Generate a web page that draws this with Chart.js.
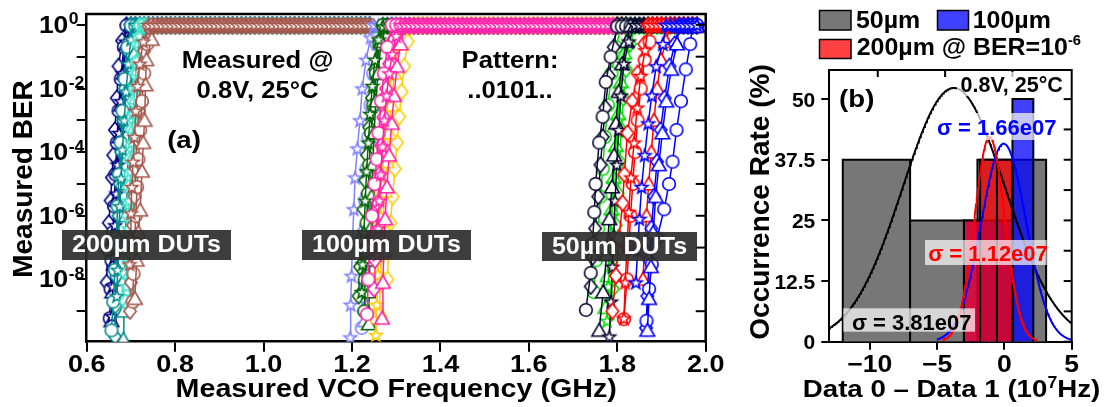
<!DOCTYPE html>
<html>
<head>
<meta charset="utf-8">
<title>BER vs VCO frequency and mismatch histogram</title>
<script src="https://cdn.jsdelivr.net/npm/chart.js@4/dist/chart.umd.min.js"></script>
<style>
  html, body { margin: 0; padding: 0; background: #fff; width: 1114px; height: 407px; overflow: hidden; }
  #panelA { position: absolute; left: 0; top: 0; width: 740px; height: 407px; }
  #panelB { position: absolute; left: 740px; top: 0; width: 374px; height: 407px; }
</style>
</head>
<body>
<div id="panelA"><canvas id="berChart"></canvas></div>
<div id="panelB"><canvas id="histChart"></canvas></div>
<script>
// ===================== Panel (a): measured BER vs VCO frequency =====================
// Each DUT colour group carries four DUTs drawn with ◇ ○ △ ☆ markers (in that order).
const SHAPES = ['diamond', 'circle', 'triangle', 'star'];

const dut200Colors = ['#000080', '#008B8B', '#3FE0C8', '#A5574C'];
const dut100Colors = ['#8080FF', '#006400', '#FFCC00', '#FF22AA'];
const dut50Colors  = ['#00E000', '#0A0A30', '#FF0000', '#0000FF'];

// 200 µm DUTs — rising edge (GHz, BER)
const dut200Ghz = [
  [0.645,0.647,0.650,0.654,0.657,0.660,0.664,0.668,0.672,0.680],
  [0.652,0.654,0.656,0.659,0.662,0.665,0.668,0.672,0.677,0.684],
  [0.656,0.658,0.661,0.664,0.667,0.670,0.674,0.678,0.683,0.690],
  [0.657,0.659,0.662,0.664,0.667,0.670,0.673,0.677,0.681,0.688],
  [0.664,0.665,0.667,0.669,0.672,0.675,0.678,0.682,0.686,0.693],
  [0.656,0.660,0.664,0.667,0.670,0.673,0.677,0.681,0.686,0.692],
  [0.683,0.684,0.685,0.687,0.689,0.691,0.694,0.697,0.701,0.707],
  [0.668,0.670,0.672,0.675,0.678,0.681,0.685,0.689,0.694,0.700],
  [0.688,0.689,0.691,0.693,0.695,0.698,0.701,0.705,0.709,0.715],
  [0.694,0.695,0.696,0.698,0.700,0.703,0.706,0.710,0.714,0.720],
  [0.697,0.698,0.699,0.701,0.703,0.705,0.708,0.712,0.716,0.722],
  [0.690,0.692,0.694,0.696,0.699,0.702,0.705,0.709,0.713,0.719],
  [0.698,0.700,0.702,0.705,0.708,0.711,0.714,0.718,0.723,0.730],
  [0.704,0.706,0.708,0.711,0.714,0.717,0.721,0.725,0.730,0.737],
  [0.709,0.713,0.717,0.721,0.725,0.728,0.731,0.733,0.735,0.747],
  [0.697,0.698,0.700,0.702,0.705,0.708,0.711,0.715,0.720,0.728]
];
const dut200Ber = [
  [8e-9,8e-8,6e-7,3e-6,1.6e-5,8e-5,5e-4,5e-3,5e-2,0.32],
  [6e-10,5e-9,4e-8,3e-7,2e-6,2e-5,2e-4,2e-3,2e-2,0.2],
  [5e-10,4e-9,3e-8,3e-7,3e-6,3e-5,3e-4,3e-3,3e-2,0.25],
  [7e-10,6e-9,5e-8,5e-7,5e-6,4e-5,4e-4,4e-3,3e-2,0.3],
  [1.6e-10,1.5e-9,1.2e-8,1e-7,1e-6,1e-5,1e-4,1e-3,1e-2,0.15],
  [2.5e-10,2e-9,2e-8,2e-7,2e-6,2e-5,2e-4,2e-3,2e-2,0.2],
  [1.3e-10,1e-9,1e-8,1e-7,1e-6,1e-5,1e-4,1e-3,1e-2,0.12],
  [3e-9,2e-8,2e-7,2e-6,1.5e-5,1.2e-4,1e-3,8e-3,6e-2,0.35],
  [2e-9,1.5e-8,1.2e-7,1e-6,8e-6,6e-5,5e-4,4e-3,3e-2,0.25],
  [5e-9,4e-8,3e-7,2.5e-6,2e-5,1.6e-4,1.3e-3,1e-2,7e-2,0.4],
  [2e-9,1.6e-8,1.3e-7,1e-6,8e-6,7e-5,6e-4,5e-3,4e-2,0.3],
  [6e-9,5e-8,4e-7,3e-6,2.5e-5,2e-4,1.6e-3,1.2e-2,8e-2,0.45],
  [1e-9,8e-9,6e-8,5e-7,4e-6,3e-5,2.5e-4,2e-3,1.6e-2,0.15],
  [2e-9,1.5e-8,1.2e-7,1e-6,8e-6,6e-5,5e-4,4e-3,3e-2,0.25],
  [2.5e-9,4e-8,3e-7,1.5e-6,2.5e-5,2e-4,1e-3,1.3e-2,8e-2,0.35],
  [3e-8,2e-7,1.2e-6,8e-6,5e-5,3e-4,2e-3,1.2e-2,6e-2,0.3]
];
const dut200Saturation = [1,0.95,1,0.9, 1,0.95,0.9,1, 0.95,1,0.9,1, 0.9,1,0.95,1];
const sweep200Ghz = [0.69,0.70,0.71,0.72,0.73,0.74,0.75,0.76,0.77,0.78,0.79,0.80,0.81,0.82,0.83,0.84,0.85,0.86,0.87,0.88,0.89,0.90,0.91,0.92,0.93,0.94,0.95,0.96,0.97,0.98,0.99,1.00,1.01,1.02,1.03,1.04,1.05,1.06,1.07,1.08,1.09,1.10,1.11,1.12,1.13,1.14,1.15,1.16,1.17,1.18,1.19,1.20,1.21,1.22,1.23,1.24];

// 100 µm DUTs
const dut100Ghz = [
  [1.226,1.227,1.229,1.231,1.234,1.237,1.241,1.246,1.252,1.260],
  [1.222,1.223,1.225,1.227,1.230,1.233,1.237,1.242,1.248,1.256],
  [1.229,1.230,1.232,1.234,1.237,1.240,1.244,1.249,1.255,1.263],
  [1.196,1.197,1.199,1.201,1.204,1.207,1.212,1.218,1.223,1.232,1.242],
  [1.215,1.218,1.222,1.226,1.230,1.234,1.239,1.245,1.252,1.262],
  [1.228,1.229,1.231,1.233,1.236,1.239,1.243,1.248,1.254,1.262],
  [1.238,1.239,1.240,1.242,1.244,1.247,1.250,1.254,1.259,1.266],
  [1.222,1.224,1.227,1.230,1.233,1.237,1.241,1.246,1.252,1.260],
  [1.280,1.283,1.287,1.292,1.297,1.302,1.307,1.312,1.318,1.326],
  [1.255,1.257,1.260,1.263,1.267,1.271,1.276,1.282,1.289,1.298],
  [1.262,1.264,1.267,1.270,1.274,1.278,1.283,1.289,1.296,1.305],
  [1.254,1.256,1.258,1.261,1.264,1.268,1.272,1.277,1.283,1.292],
  [1.250,1.252,1.255,1.258,1.262,1.266,1.271,1.277,1.284,1.293],
  [1.234,1.237,1.240,1.245,1.251,1.256,1.260,1.266,1.272,1.280],
  [1.268,1.270,1.272,1.275,1.279,1.284,1.290,1.295,1.302,1.310],
  [1.257,1.259,1.262,1.265,1.269,1.273,1.278,1.284,1.291,1.300]
];
const dut100Ber = [
  [1e-9,8e-9,6e-8,5e-7,5e-6,4e-5,4e-4,4e-3,3e-2,0.25],
  [3e-10,3e-9,3e-8,3e-7,3e-6,3e-5,3e-4,3e-3,3e-2,0.25],
  [5e-10,5e-9,4e-8,4e-7,4e-6,4e-5,3e-4,3e-3,3e-2,0.25],
  [1.5e-10,1.6e-9,1.3e-8,1.3e-7,1.6e-6,1.6e-5,1.3e-4,1e-3,1e-2,8e-2,0.4],
  [3e-9,2.5e-8,2e-7,1.6e-6,1.3e-5,8e-5,6e-4,5e-3,4e-2,0.3],
  [1e-9,1e-8,8e-8,6e-7,5e-6,4e-5,4e-4,3e-3,3e-2,0.25],
  [4e-10,4e-9,4e-8,4e-7,4e-6,4e-5,4e-4,4e-3,3e-2,0.3],
  [4e-9,3e-8,3e-7,3e-6,2.5e-5,2e-4,1.6e-3,1.2e-2,8e-2,0.35],
  [1e-8,8e-8,6e-7,4e-6,3e-5,2e-4,1.3e-3,8e-3,5e-2,0.3],
  [6e-10,6e-9,5e-8,5e-7,5e-6,4e-5,4e-4,3e-3,3e-2,0.25],
  [1e-9,1e-8,8e-8,7e-7,6e-6,5e-5,4e-4,3e-3,3e-2,0.25],
  [1.8e-10,1.6e-9,1.4e-8,1.2e-7,1e-6,1e-5,1e-4,1e-3,1e-2,0.12],
  [5e-9,4e-8,3e-7,2.5e-6,2e-5,1.6e-4,1.3e-3,1e-2,6e-2,0.35],
  [8e-10,1e-8,1e-7,1e-6,1e-5,6e-5,4e-4,4e-3,3e-2,0.2],
  [6e-10,8e-9,8e-8,8e-7,8e-6,8e-5,8e-4,6e-3,5e-2,0.25],
  [6e-8,4e-7,3e-6,2e-5,1.5e-4,1e-3,6e-3,3e-2,0.12,0.45]
];
const dut100Saturation = [1,0.9,0.95,1, 0.9,1,0.95,0.9, 1,0.9,0.95,1, 0.9,1,0.95,1];
const sweep100Ghz = [1.25,1.26,1.27,1.28,1.29,1.30,1.31,1.32,1.33,1.34,1.35,1.36,1.37,1.38,1.39,1.40,1.41,1.42,1.43,1.44,1.45,1.46,1.47,1.48,1.49,1.50,1.51,1.52,1.53,1.54,1.55,1.56,1.57,1.58,1.59,1.60,1.61,1.62,1.63,1.64,1.65,1.66,1.67,1.68,1.69,1.70,1.71,1.72,1.73,1.74,1.75,1.76,1.77,1.78,1.79,1.80,1.81,1.82];

// 50 µm DUTs (green, black, red, blue)
const dut50Ghz = [
  [1.790,1.794,1.797,1.801,1.805,1.809,1.814,1.820,1.829],
  [1.747,1.752,1.757,1.762,1.767,1.772,1.779,1.787,1.797],
  [1.773,1.778,1.783,1.787,1.792,1.797,1.802,1.808,1.816],
  [1.777,1.780,1.784,1.787,1.791,1.796,1.801,1.806,1.814],
  [1.740,1.744,1.750,1.757,1.762,1.767,1.773,1.781,1.792],
  [1.729,1.740,1.744,1.748,1.751,1.759,1.767,1.774,1.785],
  [1.759,1.768,1.776,1.782,1.788,1.793,1.797,1.803,1.811,1.822],
  [1.782,1.786,1.789,1.792,1.795,1.799,1.803,1.808,1.815,1.826],
  [1.789,1.797,1.804,1.812,1.816,1.823,1.834,1.846,1.861],
  [1.815,1.822,1.826,1.830,1.835,1.840,1.846,1.853,1.862,1.873],
  [1.858,1.862,1.866,1.871,1.877,1.883,1.890,1.899,1.910],
  [1.815,1.818,1.822,1.826,1.831,1.838,1.845,1.853,1.863],
  [1.865,1.868,1.872,1.877,1.883,1.890,1.898,1.907,1.918,1.930],
  [1.866,1.872,1.878,1.890,1.906,1.917,1.925,1.934,1.944,1.955,1.965],
  [1.868,1.872,1.876,1.881,1.887,1.894,1.902,1.911,1.922,1.935],
  [1.842,1.846,1.850,1.855,1.862,1.870,1.878,1.888,1.903]
];
const dut50Ber = [
  [5e-9,5e-8,5e-7,5e-6,5e-5,5e-4,5e-3,4e-2,0.25],
  [4e-9,4e-8,4e-7,4e-6,3e-5,3e-4,3e-3,3e-2,0.2],
  [1.3e-9,1.3e-8,1.6e-7,1.6e-6,1.6e-5,1.6e-4,1.6e-3,1.6e-2,0.13],
  [5e-10,6e-9,8e-8,1e-6,1e-5,1e-4,1e-3,1e-2,8e-2],
  [6e-9,5e-8,4e-7,4e-6,4e-5,3e-4,2.5e-3,2.5e-2,0.2],
  [1.1e-9,1.6e-8,1.3e-7,1.3e-6,1e-5,2e-4,1.3e-3,1.6e-2,0.1],
  [2.5e-10,4e-9,6e-8,8e-7,8e-6,8e-5,8e-4,8e-3,6e-2,0.3],
  [1.6e-10,2e-9,2.5e-8,2.5e-7,3e-6,4e-5,5e-4,6e-3,6e-2,0.3],
  [1e-9,1.3e-8,2e-7,2.5e-6,2e-5,4e-4,4e-3,3e-2,0.25],
  [5.6e-10,1e-8,1e-7,1e-6,1e-5,1e-4,1e-3,1e-2,8e-2,0.3],
  [1e-8,1e-7,1e-6,1e-5,1e-4,1e-3,1e-2,8e-2,0.3],
  [6e-10,8e-9,1e-7,1.3e-6,1.6e-5,2e-4,2.5e-3,2.5e-2,0.16],
  [3e-10,3e-9,4e-8,4e-7,4e-6,5e-5,5e-4,5e-3,5e-2,0.25],
  [5e-10,5e-9,3e-8,2e-7,1.6e-6,1e-5,5e-5,5e-4,4e-3,4e-2,0.25],
  [2.5e-10,2.5e-9,2.5e-8,3e-7,4e-6,4e-5,4e-4,4e-3,4e-2,0.25],
  [8e-9,8e-8,8e-7,8e-6,8e-5,8e-4,6e-3,5e-2,0.25]
];
const dut50Saturation = [0.9,1,0.95,0.9, 1,0.9,0.95,1, 1,0.95,0.9,1, 0.95,1,0.9,1];
const sweep50Ghz = [1.80,1.81,1.82,1.83,1.84,1.85,1.86,1.87,1.88,1.89,1.90,1.91,1.92,1.93,1.94,1.95,1.96,1.97,1.98];

// Axis ticks
const freqTicks = [0.6, 0.8, 1.0, 1.2, 1.4, 1.6, 1.8, 2.0];
const berDecades = [0, -1, -2, -3, -4, -5, -6, -7, -8, -9];
const berLabelExp = [0, -2, -4, -6, -8];

// ===================== Panel (b): Data 0 – Data 1 histogram =====================
const bins50 = [[-12, -7], [-7, -3], [-2, 3.1]];
const pct50 = [37.5, 25, 37.5];
const bins100 = [[-3, 0.6], [0.6, 2.15]];
const pct100 = [25, 50];
const bins200 = [[-3, -1.8], [-1.8, -0.55], [-0.55, 0.6]];
const pct200 = [25, 37.5, 37.5];

// Normal fits (units of 10^7 Hz): 50 µm, 100 µm, 200 µm
const fitMean  = [-3.75, -0.05, -1.1];
const fitSigma = [3.81, 1.66, 1.12];
const fitPeak  = [52.3, 40.8, 42.2];
const fitSpan  = [[-13, 5], [-5, 5], [-4.6, 2.45]];
const fitColor = ['#000000', '#0000FF', '#FF0000'];

const rateTicks = [0, 12.5, 25, 37.5, 50];
const rateMinor = [0, 6.25, 12.5, 18.75, 25, 31.25, 37.5, 43.75, 50];
const deltaTicks = [-10, -5, 0, 5];
const deltaTopTicks = [-9.4, -4.4, 0.6];

// ------------------------------------------------------------------
const FONT = '"Liberation Sans", Arial, Helvetica, sans-serif';
Chart.defaults.font.family = FONT;

function textW(ctx, s, size, sx) {
  ctx.save();
  ctx.font = `bold ${size}px ${FONT}`;
  const w = ctx.measureText(s).width * sx;
  ctx.restore();
  return w;
}
// Draws a run of text pieces [{t, size, sx, dy, color}] starting at x (or aligned).
function drawRun(ctx, parts, x, y, align) {
  const widths = parts.map(p => textW(ctx, p.t, p.size, p.sx ?? 1));
  const total = widths.reduce((a, b) => a + b, 0);
  let cx = align === 'center' ? x - total / 2 : align === 'right' ? x - total : x;
  parts.forEach((p, i) => {
    ctx.save();
    ctx.font = `bold ${p.size}px ${FONT}`;
    ctx.fillStyle = p.color || '#000';
    ctx.textAlign = 'left';
    ctx.textBaseline = 'alphabetic';
    ctx.translate(cx, y + (p.dy || 0));
    ctx.scale(p.sx ?? 1, 1);
    ctx.fillText(p.t, 0, 0);
    ctx.restore();
    cx += widths[i];
  });
  return { left: cx - total, width: total };
}
function drawText(ctx, s, x, y, size, sx, align, color) {
  return drawRun(ctx, [{ t: s, size, sx, color }], x, y, align);
}

function markerCanvas(shape, color) {
  const s = 18;
  const c = document.createElement('canvas');
  c.width = s; c.height = s;
  const g = c.getContext('2d');
  g.translate(s / 2, s / 2);
  g.lineWidth = 1.6;
  g.strokeStyle = color;
  g.fillStyle = '#ffffff';
  g.lineJoin = 'miter';
  g.beginPath();
  if (shape === 'diamond') {
    g.moveTo(0, -7.8); g.lineTo(6.2, 0); g.lineTo(0, 7.8); g.lineTo(-6.2, 0); g.closePath();
  } else if (shape === 'circle') {
    g.arc(0, 0, 6.3, 0, Math.PI * 2);
  } else if (shape === 'triangle') {
    g.moveTo(0, -7); g.lineTo(7.3, 5.8); g.lineTo(-7.3, 5.8); g.closePath();
  } else {
    for (let k = 0; k < 10; k++) {
      const r = k % 2 ? 2.7 : 6.6;
      const a = -Math.PI / 2 + k * Math.PI / 5;
      const px = r * Math.cos(a), py = r * Math.sin(a) + 0.6;
      k ? g.lineTo(px, py) : g.moveTo(px, py);
    }
    g.closePath();
  }
  g.fill();
  g.stroke();
  return c;
}

function groupDatasets(ghz, ber, saturation, sweep, colors) {
  return ghz.map((fs, i) => {
    const color = colors[Math.floor(i / 4)];
    const pts = fs.map((f, j) => ({ x: f, y: ber[i][j] }));
    const last = fs[fs.length - 1];
    sweep.filter(f => f > last + 0.004).forEach(f => pts.push({ x: f, y: saturation[i] }));
    return {
      data: pts,
      borderColor: color,
      borderWidth: 1.5,
      backgroundColor: '#ffffff',
      pointStyle: markerCanvas(SHAPES[i % 4], color),
      pointRadius: 6,
      showLine: true,
      fill: false,
      tension: 0
    };
  });
}

// later datasets must be painted on top → Chart.js paints index 0 last, so reverse
const berSets = [
  ...groupDatasets(dut200Ghz, dut200Ber, dut200Saturation, sweep200Ghz, dut200Colors),
  ...groupDatasets(dut100Ghz, dut100Ber, dut100Saturation, sweep100Ghz, dut100Colors),
  ...groupDatasets(dut50Ghz, dut50Ber, dut50Saturation, sweep50Ghz, dut50Colors)
].reverse();

const axisGrid = { display: true, drawOnChartArea: false, drawTicks: true, tickLength: 10, lineWidth: 2, color: '#000' };
const axisBorder = { display: true, width: 2.5, color: '#000' };

const panelADecor = {
  id: 'panelADecor',
  afterDraw(chart) {
    const { ctx, chartArea: a, scales: { x, y } } = chart;
    ctx.save();
    ctx.strokeStyle = '#000';
    ctx.lineWidth = 2.5;
    ctx.beginPath();
    ctx.moveTo(a.left - 1.25, a.top); ctx.lineTo(a.right, a.top); ctx.lineTo(a.right, a.bottom + 1.25);
    ctx.stroke();
    ctx.lineWidth = 2;
    berDecades.forEach(e => {
      const py = y.getPixelForValue(Math.pow(10, e));
      ctx.beginPath(); ctx.moveTo(a.right, py); ctx.lineTo(a.right - 10, py); ctx.stroke();
    });
    // y tick labels 10^n
    berLabelExp.forEach(e => {
      const py = y.getPixelForValue(Math.pow(10, e));
      drawText(ctx, '10', a.left - 18.4, py + 8, 23, 1.15, 'right');
      drawText(ctx, e === 0 ? '0' : '-' + (-e), a.left - 18, py - 0.5, 16, 1.1, 'left');
    });
    // x tick labels
    freqTicks.forEach(v => {
      drawText(ctx, v.toFixed(1), x.getPixelForValue(v), 371.7, 23.5, 1.15, 'center');
    });
    // axis titles
    drawText(ctx, 'Measured VCO Frequency (GHz)', (a.left + a.right) / 2, 396.7, 25.6, 1.12, 'center');
    ctx.save();
    ctx.translate(32, 179);
    ctx.rotate(-Math.PI / 2);
    drawText(ctx, 'Measured BER', 0, 0, 28, 1, 'center');
    ctx.restore();
    // annotations
    drawText(ctx, 'Measured @', 257.5, 68.3, 23.3, 1.1, 'center');
    drawText(ctx, '0.8V, 25°C', 257.5, 98.3, 23.3, 1.1, 'center');
    drawText(ctx, '(a)', 184, 148, 24, 1.15, 'center');
    drawText(ctx, 'Pattern:', 510, 68.3, 23.3, 1.1, 'center');
    drawText(ctx, '..0101..', 510, 98.3, 23.3, 1.1, 'center');
    // DUT group tags
    const tags = [
      ['200µm DUTs', 62, 230, 169, 30],
      ['100µm DUTs', 302, 230, 169, 30],
      ['50µm DUTs', 542, 232, 155, 29]
    ];
    tags.forEach(([t, bx, by, bw, bh]) => {
      ctx.fillStyle = 'rgba(45,45,45,0.92)';
      ctx.fillRect(bx, by, bw, bh);
      drawText(ctx, t, bx + bw / 2, by + 21.7, 23, 1.09, 'center', '#ffffff');
    });
    ctx.restore();
  }
};

new Chart(document.getElementById('berChart'), {
  type: 'line',
  data: { datasets: berSets },
  options: {
    responsive: true,
    maintainAspectRatio: false,
    animation: false,
    devicePixelRatio: 1,
    events: [],
    layout: { padding: { top: 14, right: 34.3, left: 0, bottom: 0 } },
    plugins: { legend: { display: false }, tooltip: { enabled: false } },
    scales: {
      x: {
        type: 'linear', min: 0.6, max: 2.0,
        afterBuildTicks: s => { s.ticks = freqTicks.map(v => ({ value: v })); },
        afterFit: s => { s.height = 65.3; },
        ticks: { display: false },
        grid: axisGrid, border: axisBorder
      },
      y: {
        type: 'logarithmic', min: 1.1e-10, max: 2.2,
        afterBuildTicks: s => { s.ticks = berDecades.map(e => ({ value: Math.pow(10, e) })); },
        afterFit: s => { s.width = 86.7; },
        ticks: { display: false },
        grid: axisGrid, border: axisBorder
      }
    }
  },
  plugins: [panelADecor]
});

// ===================== Panel (b) =====================
function barSets(bins, pcts, fillColor) {
  return bins.map((b, i) => ({
    data: [{ x: b[0], y: 0 }, { x: b[0], y: pcts[i] }, { x: b[1], y: pcts[i] }, { x: b[1], y: 0 }],
    backgroundColor: fillColor,
    borderColor: '#000',
    borderWidth: 2,
    borderJoinStyle: 'miter',
    fill: 'origin',
    pointRadius: 0,
    tension: 0
  }));
}
function fitSet(k) {
  const pts = [];
  const [x0, x1] = fitSpan[k];
  for (let v = x0; v <= x1 + 1e-9; v += 0.05) {
    const z = (v - fitMean[k]) / fitSigma[k];
    pts.push({ x: v, y: fitPeak[k] * Math.exp(-0.5 * z * z) });
  }
  return { data: pts, borderColor: fitColor[k], borderWidth: 2, fill: false, pointRadius: 0, tension: 0 };
}

const histSets = [
  ...barSets(bins50, pct50, '#777777'),
  ...barSets(bins100, pct100, 'rgba(0,0,255,0.75)'),
  ...barSets(bins200, pct200, 'rgba(255,0,0,0.75)'),
  fitSet(0), fitSet(1), fitSet(2)
].reverse();

const OX = 740; // canvas offset of panel (b) on the page
const panelBDecor = {
  id: 'panelBDecor',
  afterDraw(chart) {
    const { ctx, chartArea: a, scales: { x, y } } = chart;
    ctx.save();
    ctx.strokeStyle = '#000';
    ctx.lineWidth = 2;
    ctx.beginPath();
    ctx.moveTo(a.left - 1, a.top); ctx.lineTo(a.right, a.top); ctx.lineTo(a.right, a.bottom + 1);
    ctx.stroke();
    rateMinor.forEach(v => {
      const py = y.getPixelForValue(v);
      ctx.beginPath(); ctx.moveTo(a.right, py); ctx.lineTo(a.right - 8, py); ctx.stroke();
    });
    deltaTopTicks.forEach(v => {
      const px = x.getPixelForValue(v);
      ctx.beginPath(); ctx.moveTo(px, a.top); ctx.lineTo(px, a.top + 7); ctx.stroke();
    });
    rateTicks.forEach(v => {
      drawText(ctx, String(v), a.left - 14, y.getPixelForValue(v) + 7.5, 21, 1.0, 'right');
    });
    deltaTicks.forEach(v => {
      drawText(ctx, v < 0 ? '\u2212' + (-v) : String(v), x.getPixelForValue(v), 371.7, 23.3, 1.14, 'center');
    });

    ctx.translate(-OX, 0);
    // axis titles
    drawRun(ctx, [
      { t: 'Data 0 \u2013 Data 1 (10', size: 24.5, sx: 1.13 },
      { t: '7', size: 16, sx: 1.1, dy: -9 },
      { t: 'Hz)', size: 24.5, sx: 1.13 }
    ], 951.5, 396.7, 'center');
    ctx.save();
    ctx.translate(769, 202);
    ctx.rotate(-Math.PI / 2);
    drawText(ctx, 'Occurrence Rate (%)', 0, 0, 28, 1, 'center');
    ctx.restore();

    // legend
    const box = (bx, by, bw, bh, fillColor) => {
      ctx.fillStyle = fillColor; ctx.fillRect(bx, by, bw, bh);
      ctx.lineWidth = 1.5; ctx.strokeStyle = '#000'; ctx.strokeRect(bx, by, bw, bh);
    };
    box(819.5, 10.5, 31.5, 19.5, '#777777');
    drawText(ctx, '50µm', 856, 28.3, 23.3, 1.07, 'left');
    box(937.5, 10.5, 31, 19.5, 'rgba(0,0,255,0.75)');
    drawText(ctx, '100µm', 972.7, 28.3, 23.3, 1.07, 'left');
    box(819.5, 39.5, 31.5, 19, 'rgba(255,0,0,0.75)');
    drawRun(ctx, [
      { t: '200µm @ BER=10', size: 23.3, sx: 1.07 },
      { t: '-6', size: 14, sx: 1.05, dy: -10 }
    ], 856.7, 55, 'left');

    // panel tag, conditions and sigma labels (on translucent white)
    drawText(ctx, '(b)', 856.7, 107, 24, 1.15, 'center');
    const tagged = (t, cx, base, size, color, bx0, by0, bx1, by1) => {
      ctx.fillStyle = 'rgba(255,255,255,0.7)';
      ctx.fillRect(bx0, by0, bx1 - bx0, by1 - by0);
      drawText(ctx, t, cx, base, size, 1.0, 'center', color);
    };
    tagged('0.8V, 25°C', 1011.7, 91.5, 21.5, '#000', 957, 72, 1067, 96);
    tagged('\u03c3 = 1.66e07', 996.7, 135, 22, '#0000FF', 935, 113, 1058, 140);
    tagged('\u03c3 = 1.12e07', 988, 260.5, 22, '#FF0000', 925, 240, 1046.7, 265);
    tagged('\u03c3 = 3.81e07', 911.7, 330, 22, '#000', 843.3, 308.3, 975, 331.7);
    ctx.restore();
  }
};

new Chart(document.getElementById('histChart'), {
  type: 'line',
  data: { datasets: histSets },
  options: {
    responsive: true,
    maintainAspectRatio: false,
    animation: false,
    devicePixelRatio: 1,
    events: [],
    layout: { padding: { top: 70, right: 42.3, left: 0, bottom: 0 } },
    plugins: { legend: { display: false }, tooltip: { enabled: false } },
    scales: {
      x: {
        type: 'linear', min: -13, max: 5,
        afterBuildTicks: s => { s.ticks = deltaTicks.map(v => ({ value: v })); },
        afterFit: s => { s.height = 65.3; },
        ticks: { display: false },
        grid: { display: true, drawOnChartArea: false, drawTicks: true, tickLength: 8, lineWidth: 2, color: '#000' },
        border: { display: true, width: 2, color: '#000' }
      },
      y: {
        type: 'linear', min: 0, max: 56,
        afterBuildTicks: s => { s.ticks = rateTicks.map(v => ({ value: v })); },
        afterFit: s => { s.width = 89.3; },
        ticks: { display: false },
        grid: { display: true, drawOnChartArea: false, drawTicks: true, tickLength: 8, lineWidth: 2, color: '#000' },
        border: { display: true, width: 2, color: '#000' }
      }
    }
  },
  plugins: [panelBDecor]
});
</script>
</body>
</html>
